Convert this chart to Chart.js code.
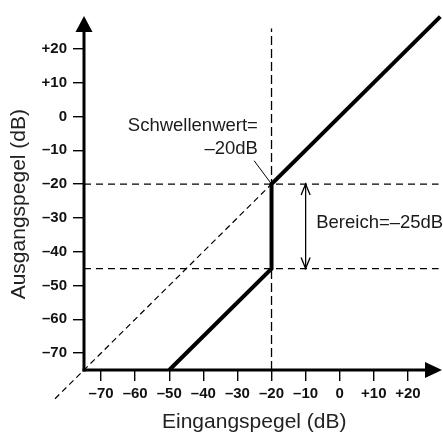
<!DOCTYPE html>
<html><head><meta charset="utf-8">
<script src="https://cdn.jsdelivr.net/npm/chart.js@4/dist/chart.umd.min.js"></script>
<style>html,body{margin:0;padding:0;background:#fff}canvas{display:block}</style>
</head><body>
<canvas id="c" width="443" height="435"></canvas>
<script>
// ---- data ----
const tickValues = [-70, -60, -50, -40, -30, -20, -10, 0, 10, 20];
const transferX = [-50, -20, -20, 29.5];
const transferY = [-75, -45, -20, 29.5];
const unityX = [-83.5, -20];
const unityY = [-83.5, -20];
const thresholdX = [-20, -20];
const thresholdY = [-75, 26];
const upperRefX = [-75, 29];
const upperRefY = [-20, -20];
const lowerRefX = [-75, 29];
const lowerRefY = [-45, -45];
const thresholdLabel = ['Schwellenwert=', '–20dB'];
const rangeLabel = 'Bereich=–25dB';
const xTitle = 'Eingangspegel (dB)';
const yTitle = 'Ausgangspegel (dB)';

const FONT = '"Liberation Sans", Arial, Helvetica, sans-serif';
const pts = (xs, ys) => xs.map((v, i) => ({x: v, y: ys[i]}));
const fmt = v => v > 0 ? '+' + v : (v < 0 ? '–' + Math.abs(v) : '0');

const deco = {
  id: 'deco',
  afterDatasetsDraw(chart) {
    const {ctx, chartArea, scales: {x, y}} = chart;
    const px = v => x.getPixelForValue(v), py = v => y.getPixelForValue(v);
    ctx.save();
    // axes with arrows
    const x0 = px(-75), y0 = py(-75);
    const yTip = chartArea.top + 1, xTip = chartArea.right;
    ctx.strokeStyle = '#000'; ctx.fillStyle = '#000'; ctx.lineWidth = 3;
    ctx.beginPath(); ctx.moveTo(x0, y0 + 1.5); ctx.lineTo(x0, yTip + 14); ctx.stroke();
    ctx.beginPath(); ctx.moveTo(x0 - 1.5, y0); ctx.lineTo(xTip - 16, y0); ctx.stroke();
    ctx.beginPath(); ctx.moveTo(x0, yTip); ctx.lineTo(x0 - 8.5, yTip + 16); ctx.lineTo(x0 + 8.5, yTip + 16); ctx.closePath(); ctx.fill();
    ctx.beginPath(); ctx.moveTo(xTip, y0); ctx.lineTo(xTip - 17, y0 - 8); ctx.lineTo(xTip - 17, y0 + 8); ctx.closePath(); ctx.fill();

    // range double arrow
    const ax = px(-10), aTop = py(-20), aBot = py(-45);
    ctx.lineWidth = 1.3;
    ctx.beginPath(); ctx.moveTo(ax, aTop); ctx.lineTo(ax, aBot); ctx.stroke();
    ctx.beginPath(); ctx.moveTo(ax - 4.5, aTop + 11); ctx.lineTo(ax, aTop); ctx.lineTo(ax + 4.5, aTop + 11); ctx.stroke();
    ctx.beginPath(); ctx.moveTo(ax - 4.5, aBot - 11); ctx.lineTo(ax, aBot); ctx.lineTo(ax + 4.5, aBot - 11); ctx.stroke();

    // pointer to threshold
    ctx.lineWidth = 1;
    ctx.beginPath(); ctx.moveTo(px(-25.1), py(-13.1)); ctx.lineTo(px(-20), py(-20)); ctx.stroke();

    // annotation texts
    ctx.fillStyle = '#1a1a1a';
    ctx.font = '18.5px ' + FONT;
    ctx.textBaseline = 'middle';
    ctx.textAlign = 'right';
    ctx.fillText(thresholdLabel[0], px(-24), py(-2.9));
    ctx.fillText(thresholdLabel[1], px(-24), py(-9.6));
    ctx.textAlign = 'left';
    ctx.fillText(rangeLabel, px(-6.9), py(-31.6));
    ctx.restore();
  }
};

const gridOpts = {drawOnChartArea: false, drawTicks: true, tickLength: 11, color: '#000', lineWidth: 1.4};
const tickFont = {family: FONT, size: 15, weight: 'bold'};

new Chart(document.getElementById('c'), {
  type: 'scatter',
  data: {
    datasets: [
      {data: pts(unityX, unityY), showLine: true, borderColor: '#000', borderWidth: 1.2, borderDash: [6, 4], pointRadius: 0, clip: false},
      {data: pts(thresholdX, thresholdY), showLine: true, borderColor: '#000', borderWidth: 1.3, borderDash: [9, 4], pointRadius: 0, clip: false},
      {data: pts(upperRefX, upperRefY), showLine: true, borderColor: '#000', borderWidth: 1.3, borderDash: [7, 5], pointRadius: 0, clip: false},
      {data: pts(lowerRefX, lowerRefY), showLine: true, borderColor: '#000', borderWidth: 1.3, borderDash: [7, 5], pointRadius: 0, clip: false},
      {data: pts(transferX, transferY), showLine: true, borderColor: '#000', borderWidth: 4, pointRadius: 0, clip: false, borderJoinStyle: 'miter', borderCapStyle: 'butt'}
    ]
  },
  options: {
    responsive: false,
    animation: false,
    devicePixelRatio: 1,
    layout: {padding: {top: 12, right: 1, left: 0, bottom: 0}},
    plugins: {legend: {display: false}, tooltip: {enabled: false}},
    scales: {
      x: {
        type: 'linear', min: -75, max: 30,
        afterBuildTicks: s => { s.ticks = tickValues.map(v => ({value: v})); },
        afterFit: s => { s.height = 65; },
        grid: gridOpts,
        border: {display: false},
        ticks: {font: tickFont, color: '#111', padding: 4, maxRotation: 0, autoSkip: false, callback: fmt},
        title: {display: true, text: xTitle + '   ', font: {family: FONT, size: 21}, color: '#222', padding: {top: 0, bottom: 0}}
      },
      y: {
        type: 'linear', min: -75, max: 30,
        afterBuildTicks: s => { s.ticks = tickValues.map(v => ({value: v})); },
        afterFit: s => { s.width = 84; },
        grid: gridOpts,
        border: {display: false},
        ticks: {font: tickFont, color: '#111', padding: 6, autoSkip: false, callback: fmt},
        title: {display: true, text: yTitle + '    ', font: {family: FONT, size: 21}, color: '#222', padding: {top: 7, bottom: 0}}
      }
    }
  },
  plugins: [deco]
});
</script>
</body></html>
